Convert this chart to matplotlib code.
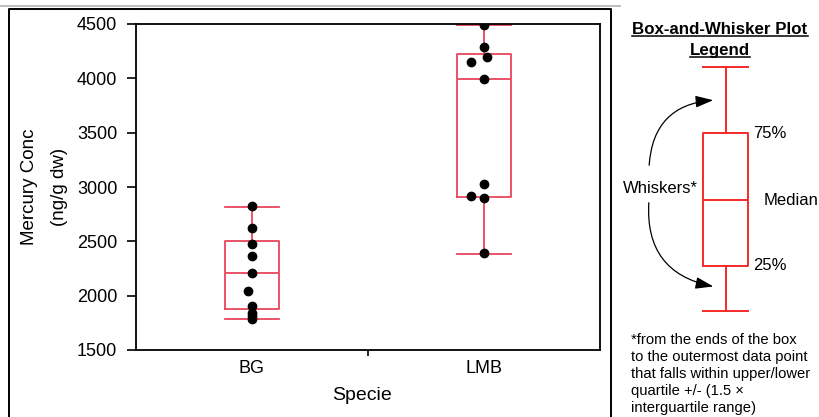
import numpy as np
import matplotlib
matplotlib.use("Agg")
import matplotlib.pyplot as plt
from matplotlib.patches import FancyArrowPatch

plt.rcParams['font.family'] = ['Liberation Sans', 'DejaVu Sans']

# data
species = ['BG', 'LMB']
bg_values = [2825, 2620, 2478, 2362, 2212, 2043, 1902, 1838, 1816, 1785]
bg_jitter = [0, 0, 0, 0, 0, -0.018, 0, 0, 0, 0]
lmb_values = [4490, 4285, 4193, 4150, 3990, 3025, 2920, 2902, 2390]
lmb_jitter = [0, 0, 0.013, -0.056, 0, 0, -0.056, 0, 0]

# box stats (whislo, q1, med, q3, whishi)
bg_box = [1785, 1877, 2205, 2506, 2819]
lmb_box = [2385, 2911, 3994, 4221, 4491]

yticks = [1500, 2000, 2500, 3000, 3500, 4000, 4500]

box_color = '#e8455c'
legend_red = '#f52a2a'

fig = plt.figure(figsize=(8.2, 4.17), dpi=100)
ax = fig.add_axes([136 / 820, 67 / 417, 464 / 820, 326 / 417])


def stats(b, label):
    return dict(whislo=b[0], q1=b[1], med=b[2], q3=b[3], whishi=b[4],
                fliers=[], label=label)


props = dict(color=box_color, linewidth=1.3)
ax.bxp([stats(bg_box, 'BG'), stats(lmb_box, 'LMB')], positions=[1, 2],
       widths=0.237, showfliers=False, boxprops=props, medianprops=props,
       whiskerprops=props, capprops=props, capwidths=0.237)

ax.plot(1 + np.array(bg_jitter), bg_values, 'o', color='black', ms=6, zorder=3)
ax.plot(2 + np.array(lmb_jitter), lmb_values, 'o', color='black', ms=6, zorder=3)

ax.set_xlim(0.5, 2.5)
ax.set_ylim(1500, 4500)
ax.set_yticks(yticks)
ax.set_xticks([1, 2])
ax.set_xticklabels(species)
ax.set_xticks([1.5], minor=True)
ax.tick_params(axis='x', which='major', length=0, pad=7, labelsize=13)
ax.tick_params(axis='x', which='minor', length=4.5, width=1.2, direction='out')
ax.tick_params(axis='y', length=6.5, width=1.2, pad=7, labelsize=13)
for s in ax.spines.values():
    s.set_linewidth(1.3)

# axis titles
fig.text(30 / 820, 1 - 187 / 417, 'Mercury Conc', rotation=90, fontsize=13.5,
         ha='center', va='center')
fig.text(60 / 820, 1 - 187 / 417, '(ng/g dw)', rotation=90, fontsize=13.5,
         ha='center', va='center')
fig.text(362 / 820, 1 - 396 / 417, 'Specie', fontsize=14, ha='center', va='center')

# overlay in pixel coords for frame and the legend diagram
ov = fig.add_axes([0, 0, 1, 1], zorder=5)
ov.set_xlim(0, 820)
ov.set_ylim(417, 0)
ov.axis('off')
ov.patch.set_visible(False)

ov.plot([0, 620], [6, 6], color='#b0b0b0', lw=1.2)
ov.plot([9, 9, 611, 611], [420, 9, 9, 420], color='black', lw=1.4)

legend_props = dict(color=legend_red, linewidth=1.4)
ov.bxp([dict(whislo=311, q1=266, med=200, q3=133, whishi=67, fliers=[])],
       positions=[726], widths=45, showfliers=False, boxprops=legend_props,
       medianprops=legend_props, whiskerprops=legend_props,
       capprops=legend_props, capwidths=45, manage_ticks=False)

t1 = ov.text(720, 29, 'Box-and-Whisker Plot', fontsize=12.2, fontweight='bold',
             ha='center', va='center')
t2 = ov.text(720, 50, 'Legend', fontsize=12.2, fontweight='bold',
             ha='center', va='center')

ov.text(753, 133, '75%', fontsize=12, ha='left', va='center')
ov.text(764, 200, 'Median', fontsize=12, ha='left', va='center')
ov.text(753, 266, '25%', fontsize=12, ha='left', va='center')
ov.text(660, 188, 'Whiskers*', fontsize=12, ha='center', va='center')

ov.add_patch(FancyArrowPatch((649, 168), (716, 100),
                             connectionstyle='arc3,rad=-0.45',
                             arrowstyle='-|>,head_length=0.9,head_width=0.3',
                             mutation_scale=12, color='black', lw=0.9))
ov.add_patch(FancyArrowPatch((649, 200), (716, 287),
                             connectionstyle='arc3,rad=0.45',
                             arrowstyle='-|>,head_length=0.9,head_width=0.3',
                             mutation_scale=12, color='black', lw=0.9))

ov.text(631, 333, '*from the ends of the box\nto the outermost data point\n'
        'that falls within upper/lower\nquartile +/- (1.5 \u00d7\n'
        'interguartile range)', fontsize=10.6, ha='left', va='top',
        linespacing=1.27)

# underline the legend title
fig.canvas.draw()
r = fig.canvas.get_renderer()
inv = ov.transData.inverted()
for t in (t1, t2):
    bb = t.get_window_extent(r)
    (x0, y0), (x1, y1) = inv.transform([(bb.x0, bb.y0), (bb.x1, bb.y1)])
    ov.plot([x0, x1], [y0 - 1, y0 - 1], color='black', lw=1.1)

fig.savefig('out.png', dpi=100)
